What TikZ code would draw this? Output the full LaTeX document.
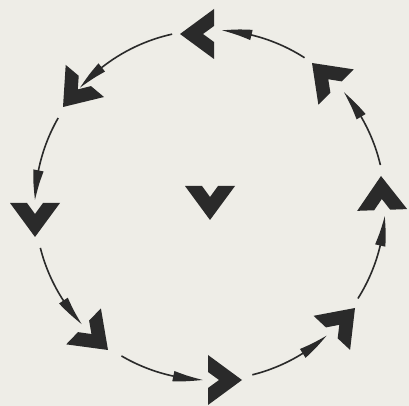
\documentclass[tikz,border=0pt]{standalone}
\usetikzlibrary{arrows.meta,bending}
\definecolor{paper}{HTML}{EEEDE7}
\definecolor{ink}{HTML}{2A2A2A}
\begin{document}
\begin{tikzpicture}[x=1pt,y=1pt,
  conn/.style={draw=ink,line width=1.6pt,-{Triangle[length=30pt,width=10pt,bend]}},
  chev/.pic={\fill[ink] (0,0)--(-34,25)--(-34,8)--(-23,0)--(-34,-8)--(-34,-25)--cycle;}]
\fill[paper] (0,0) rectangle (409,406);
\useasboundingbox (0,0) rectangle (409,406);
\coordinate (O) at (210,201);
\foreach \n/\x/\y/\a in {ctop/180/372/180, cul/63/299/230, cl/35/169/270, cbl/108/56/316,
  cb/242/26/0, cbr/355/98/47, cr/381/230/92, cur/312/343/135, cc/210/186/270}{
  \coordinate (\n) at (\x,\y);
  \pic[rotate=\a] at (\n) {chev};
}
\foreach \i/\s/\e in {1/57.3/86.1, 2/102.5/138, 3/150.2/178.4, 4/194.2/222.9,
  5/239.6/267.7, 6/284/311.8, 7/327.7/356.4, 8/13.2/40.1}{
  \path (O) ++(\s:175) coordinate (s\i);
  \draw[conn] (s\i) arc[start angle=\s, end angle=\e, radius=175];
}
\end{tikzpicture}
\end{document}
